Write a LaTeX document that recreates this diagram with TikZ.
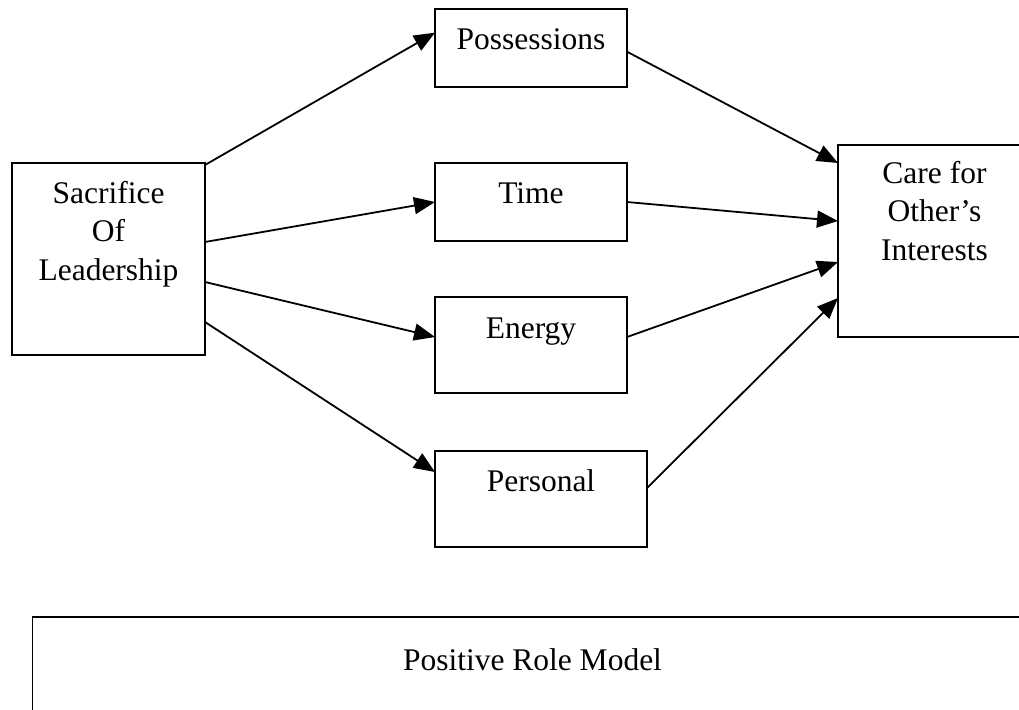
\documentclass[tikz,border=0pt]{standalone}
\usepackage{fontspec}
\setmainfont{Liberation Serif}
\usetikzlibrary{arrows.meta}
\newcommand\bxt[4]{\parbox[c][#2pt][t]{#1pt}{\centering\rule{0pt}{#3pt}#4}}
\begin{document}
\begin{tikzpicture}[x=1pt,y=-1pt,
  box/.style={draw, line width=1.8pt, inner sep=0pt, outer sep=0pt, anchor=north west,
    font=\fontsize{31.5}{38.5}\selectfont},
  arr/.style={line width=1.8pt, -{Triangle[length=21pt,width=17pt]}}]
\useasboundingbox (0,0) rectangle (1019,709);
\node[box] (sac)  at (12,163)  {\bxt{193}{192}{40}{Sacrifice\\Of\\Leadership}};
\node[box] (poss) at (435,8.7) {\bxt{192}{78.6}{41.3}{Possessions}};
\node[box] (time) at (435,163) {\bxt{192}{78}{40}{Time}};
\node[box] (ener) at (435,297) {\bxt{192}{96}{41}{Energy}};
\node[box] (pers) at (435,451) {\bxt{212}{96}{40}{Personal}};
\node[box] (care) at (838,145) {\bxt{193}{192}{38}{Care for\\Other’s\\Interests}};
\node[box] (prm)  at (32.5,617) {\bxt{1000}{150}{53}{Positive Role Model}};
\draw[arr] ([yshift=-2pt]sac.north east) -- ([yshift=-24pt]poss.north west);
\draw[arr] ([yshift=-79pt]sac.north east) -- (time.west);
\draw[arr] ([yshift=-119pt]sac.north east) -- ([yshift=-40pt]ener.north west);
\draw[arr] ([yshift=-159pt]sac.north east) -- ([yshift=-21pt]pers.north west);
\draw[arr] ([yshift=-43pt]poss.north east) -- ([yshift=-18pt]care.north west);
\draw[arr] (time.east) -- ([yshift=-76pt]care.north west);
\draw[arr] ([yshift=-40pt]ener.north east) -- ([yshift=-117pt]care.north west);
\draw[arr] ([yshift=-37pt]pers.north east) -- ([yshift=-153pt]care.north west);
\end{tikzpicture}
\end{document}
